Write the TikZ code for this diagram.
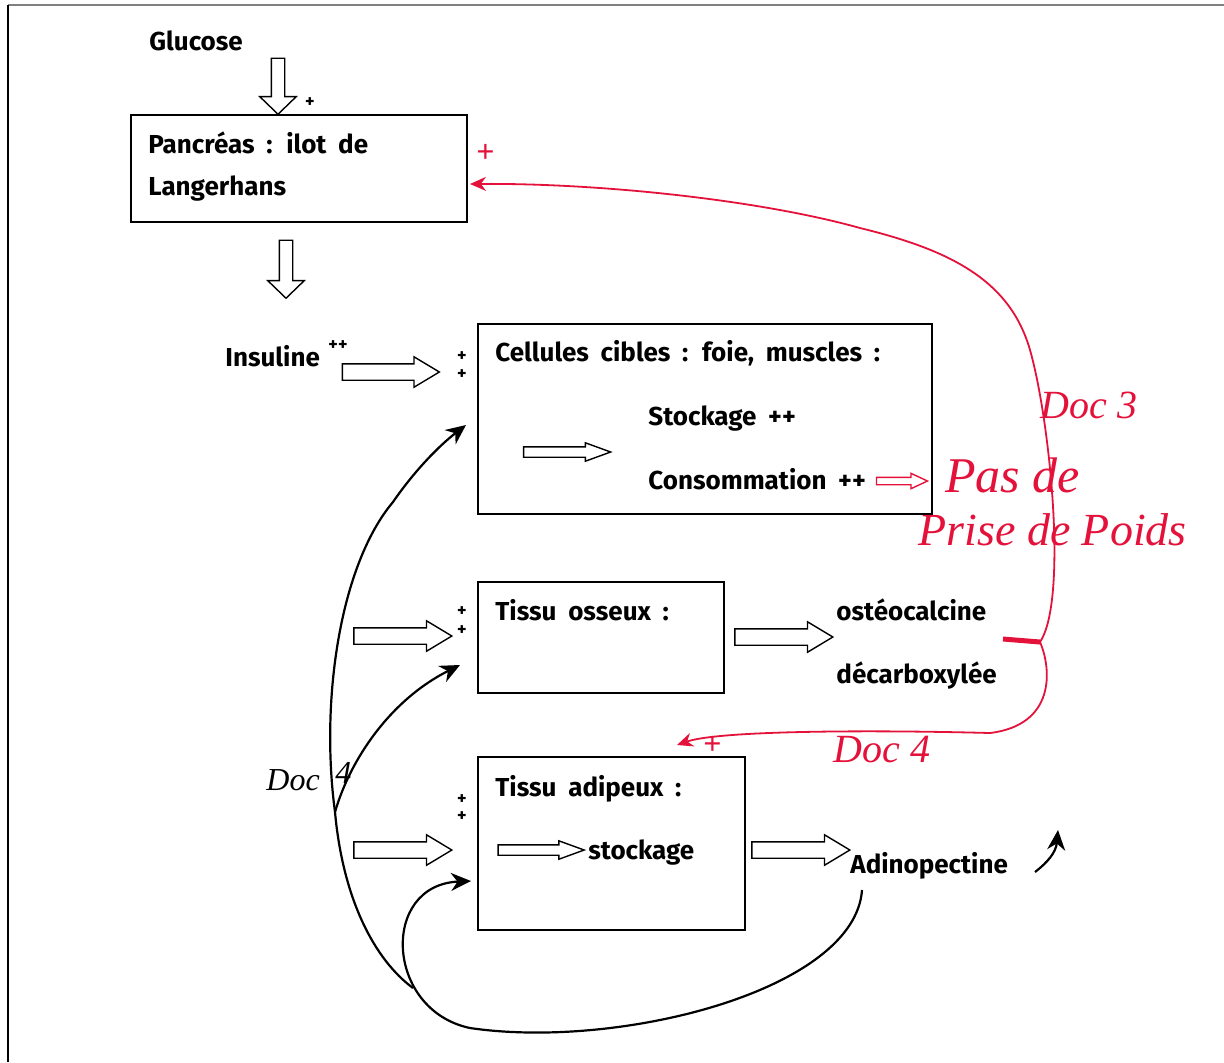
\documentclass[tikz,border=0pt]{standalone}
\usepackage{fontspec}
\setmainfont{Fira Sans}[WordSpace=1.9]
\newfontfamily\handfont{Liberation Serif}
\usetikzlibrary{arrows.meta,shapes.arrows}
\definecolor{pen}{RGB}{228,18,58}

\begin{document}
\begin{tikzpicture}
  [x=0.5pt,y=-0.5pt,
  box/.style={draw=black,line width=0.9pt,inner sep=0pt},
  fat/.style={single arrow,draw=black,line width=0.7pt,inner xsep=0pt,inner ysep=3.75pt,
    single arrow head extend=3.5pt,single arrow tip angle=62},
  downfat/.style={fat,inner ysep=3pt,single arrow head extend=5.75pt,single arrow tip angle=92,rotate=-90},
  thin/.style={fat,inner ysep=2.25pt,single arrow head extend=2pt,single arrow tip angle=40},
  lbl/.style={anchor=base west,inner sep=0pt,font=\bfseries\fontsize{13}{15}\selectfont},
  plus/.style={inner sep=0pt,font=\bfseries\small},
  hand/.style={anchor=base west,inner sep=0pt,text=pen,font=\handfont\itshape\fontsize{20}{22}\selectfont},
  curve/.style={line width=1.1pt,-{Stealth[length=10pt,width=9pt]}},
  redcurve/.style={draw=pen,line width=0.9pt,-{Stealth[length=8pt,width=7pt]}}]

  \useasboundingbox (0,0) rectangle (1224,1062);
  \draw[gray,line width=0.8pt] (8,5) -- (1224,5);
  \draw[line width=1pt] (8,5) -- (8,1062);

  % pancreas
  \node (glu) [lbl] at (149,50) {Glucose};
  \node (glu-arr) [downfat,minimum height=28pt] at (278,83) {};
  \node (p1) [plus] at (310,103) {+};
  \node (panc) [box,minimum width=168pt,minimum height=53.5pt] at (299,168.5) {};
  \node (panc-t1) [lbl] at (148,153) {Pancréas : ilot de};
  \node (panc-t2) [lbl] at (148,195) {Langerhans};
  \node (panc-arr) [downfat,minimum height=29pt] at (286,266) {};

  % cellules cibles
  \node (ins) [lbl] at (225,366) {Insuline};
  \node (ins-pp) [plus] at (338,346) {++};
  \node (ins-arr) [fat,minimum height=48.5pt] at (384,372) {};
  \node (p2) [plus] at (462,357) {+};
  \node (p3) [plus] at (462,375) {+};
  \node (cell) [box,minimum width=227pt,minimum height=95pt] at (705,419) {};
  \node (cell-t) [lbl] at (495,361) {Cellules cibles : foie, muscles :};
  \node (stock) [lbl] at (648,425) {Stockage ++};
  \node (conso) [lbl] at (648,489) {Consommation ++};
  \node (cell-arr) [thin,minimum height=43.5pt] at (560,452) {};
  \node (red-arr) [thin,draw=pen,inner ysep=1.5pt,single arrow head extend=2pt,
    single arrow tip angle=50,minimum height=25.5pt] at (898,481) {};
  \node (pas) [hand,font=\handfont\itshape\fontsize{25}{27}\selectfont] at (945,492) {Pas de};
  \node (prise) [hand,font=\handfont\itshape\fontsize{23}{25}\selectfont] at (918,545) {Prise de Poids};

  % tissu osseux
  \node (oss-in) [fat,minimum height=49pt] at (396,636) {};
  \node (p4) [plus] at (462,612) {+};
  \node (p5) [plus] at (462,631) {+};
  \node (oss) [box,minimum width=123pt,minimum height=55.5pt] at (601,637.5) {};
  \node (oss-t) [lbl] at (495,620) {Tissu osseux :};
  \node (oss-out) [fat,minimum height=49pt] at (777,637) {};
  \node (osteo) [lbl] at (836,620) {ostéocalcine};
  \node (decarb) [lbl] at (836,683) {décarboxylée};

  % tissu adipeux
  \node (adip-in) [fat,minimum height=49pt] at (396,850) {};
  \node (p6) [plus] at (462,800) {+};
  \node (p7) [plus] at (462,817) {+};
  \node (adip) [box,minimum width=133.5pt,minimum height=86.5pt] at (611.5,843.5) {};
  \node (adip-t) [lbl] at (495,796) {Tissu adipeux :};
  \node (adip-arr) [thin,minimum height=43pt] at (534,850) {};
  \node (stock2) [lbl] at (588,859) {stockage};
  \node (adip-out) [fat,minimum height=49pt] at (794,850) {};
  \node (adino) [lbl] at (850,873) {Adinopectine};

  % documents
  \node (doc3) [hand] at (1040,418) {Doc 3};
  \node (doc4r) [hand] at (833,762) {Doc 4};
  \node (doc4) [hand,text=black,font=\handfont\itshape\fontsize{16}{18}\selectfont] at (266,790) {Doc};
  \node (doc4n) [hand,text=black,font=\handfont\itshape\fontsize{16}{18}\selectfont] at (335,783) {4};
  \node (rp1) [hand,font=\handfont\bfseries\fontsize{16}{18}\selectfont] at (476,162) {+};
  \node (rp2) [hand,font=\handfont\bfseries\fontsize{16}{18}\selectfont] at (703,754) {+};

  % black feedback curves
  \coordinate (j1) at (413,988);
  \coordinate (b1) at (335,812);
  \coordinate (m1) at (393,502);
  \coordinate (cel-tip) at (466,425);
  \coordinate (oss-tip) at (460,665);
  \coordinate (adn-s) at (862,890);
  \coordinate (b2) at (470,1028);
  \coordinate (adp-tip) at (471,881);
  \coordinate (sm-s) at (1035,872);
  \coordinate (sm-tip) at (1058,830);

  \draw [curve] (j1) .. controls (375,960) and (343,900) .. (b1)
    .. controls (320,700) and (340,565) .. (m1)
    .. controls (415,470) and (440,445) .. (cel-tip);
  \draw [curve] (b1) .. controls (350,760) and (390,700) .. (oss-tip);
  \draw [curve] (adn-s) .. controls (855,990) and (620,1050) .. (b2)
    .. controls (385,1010) and (380,885) .. (adp-tip);
  \draw [curve] (sm-s) .. controls (1048,862) and (1056,852) .. (sm-tip);

  % red feedback
  \coordinate (junc) at (1040,642);
  \coordinate (brace-l) at (1003,639);
  \coordinate (r1) at (1030,350);
  \coordinate (r2) at (860,228);
  \coordinate (panc-tip) at (470,184);
  \coordinate (r3) at (990,733);
  \coordinate (adp-rtip) at (677,745);

  \draw [draw=pen,line width=2.5pt] (brace-l) -- (junc);
  \draw [redcurve] (junc) .. controls (1068,600) and (1050,420) .. (r1)
    .. controls (1010,280) and (950,250) .. (r2)
    .. controls (760,200) and (600,183) .. (panc-tip);
  \draw [redcurve] (junc) .. controls (1052,670) and (1055,725) .. (r3)
    .. controls (880,730) and (720,730) .. (adp-rtip);

\end{tikzpicture}
\end{document}
